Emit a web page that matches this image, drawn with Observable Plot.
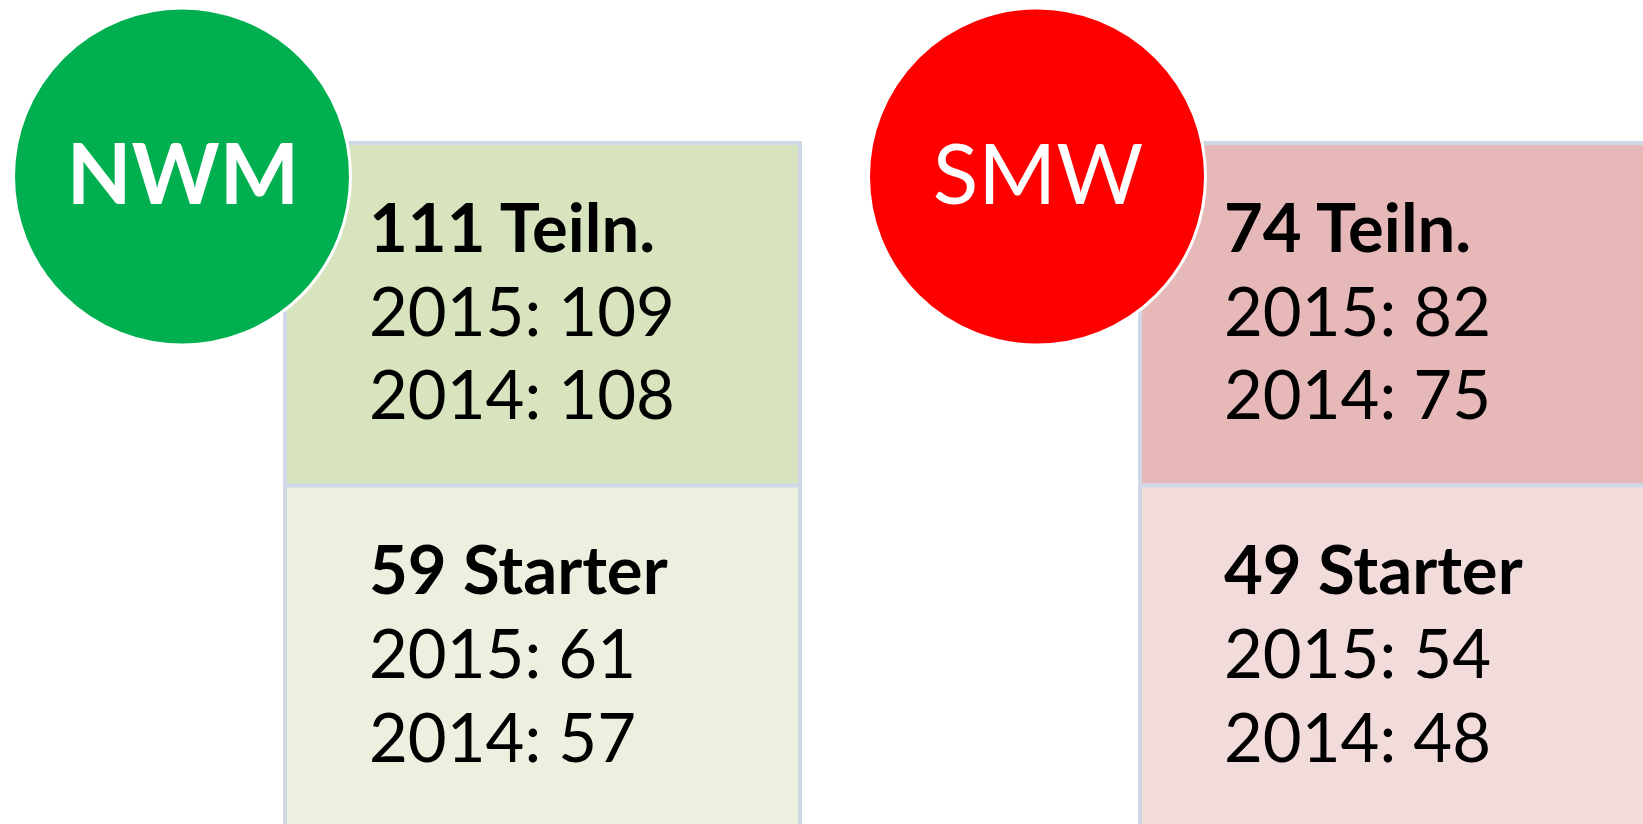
<!DOCTYPE html>
<html>
<head>
<meta charset="utf-8">
<script src="https://cdn.jsdelivr.net/npm/d3@7"></script>
<script src="https://cdn.jsdelivr.net/npm/@observablehq/plot@0.6"></script>
<style>
  html, body { margin: 0; padding: 0; background: #ffffff; overflow: hidden; }
</style>
</head>
<body>
<div id="chart"></div>
<script>
// ---- data ----
const groups = ["NWM", "SMW"];
const rows = ["Teiln.", "Starter"];
const teilnCurrent = [111, 74];
const teiln2015 = [109, 82];
const teiln2014 = [108, 75];
const starterCurrent = [59, 49];
const starter2015 = [61, 54];
const starter2014 = [57, 48];

// ---- styles ----
const circleColors = {NWM: "#00b050", SMW: "#ff0000"};
const cellColors = {
  NWM: {"Teiln.": "#d7e4bd", "Starter": "#ebf1de"},
  SMW: {"Teiln.": "#e6b9b8", "Starter": "#f2dcdb"}
};
const circleWeight = {NWM: "bold", SMW: "normal"};
const borderColor = "#d0d8e8";

// ---- table built from arrays ----
const cells = [];
groups.forEach((g, i) => {
  cells.push({group: g, row: "Teiln.", current: teilnCurrent[i], y2015: teiln2015[i], y2014: teiln2014[i]});
  cells.push({group: g, row: "Starter", current: starterCurrent[i], y2015: starter2015[i], y2014: starter2014[i]});
});
const badges = groups.map(g => ({group: g}));

// ---- layout ----
const W = 1643, H = 824;
const boxStart = 285, boxWidth = 515, boxStep = 855;
const half = boxWidth / 2;
const textDx = 83.5 - half;
const circleDx = -361;
const font = "Lato";
const fs = 67;

const badgeText = weight => Plot.text(badges, {
  filter: d => circleWeight[d.group] === weight,
  x: "group", frameAnchor: "top", dy: 203, dx: circleDx + 1,
  text: "group", lineAnchor: "bottom", textAnchor: "middle",
  fontSize: 84, fontWeight: weight, fill: "#ffffff", fontFamily: font
});

const plot = Plot.plot({
  width: W,
  height: H,
  margin: 0,
  style: {background: "#ffffff", fontFamily: font},
  x: {type: "band", domain: groups, range: [boxStart, boxStart + boxStep + boxWidth],
      paddingInner: 1 - boxWidth / boxStep, paddingOuter: 0, align: 0, round: false, axis: null},
  y: {type: "band", domain: rows, range: [143, 828], padding: 0, round: false, axis: null},
  color: {type: "identity"},
  marks: [
    Plot.cell(cells, {
      x: "group", y: "row", inset: 0,
      fill: d => cellColors[d.group][d.row],
      stroke: borderColor, strokeWidth: 4
    }),
    Plot.text(cells, {
      x: "group", y: "row", text: d => `${d.current} ${d.row}`,
      textAnchor: "start", lineAnchor: "bottom", dx: textDx, dy: -63,
      fontSize: fs, fontWeight: "bold", fill: "#000000", fontFamily: font
    }),
    Plot.text(cells, {
      x: "group", y: "row", text: d => `2015: ${d.y2015}`,
      textAnchor: "start", lineAnchor: "bottom", dx: textDx, dy: 21,
      fontSize: fs, fill: "#000000", fontFamily: font
    }),
    Plot.text(cells, {
      x: "group", y: "row", text: d => `2014: ${d.y2014}`,
      textAnchor: "start", lineAnchor: "bottom", dx: textDx, dy: 104.5,
      fontSize: fs, fill: "#000000", fontFamily: font
    }),
    Plot.dot(badges, {
      x: "group", frameAnchor: "top", dy: 176, dx: circleDx, r: 168.5,
      fill: d => circleColors[d.group], stroke: "#ffffff", strokeWidth: 3
    }),
    badgeText("bold"),
    badgeText("normal")
  ]
});
document.getElementById("chart").appendChild(plot);
</script>
</body>
</html>
